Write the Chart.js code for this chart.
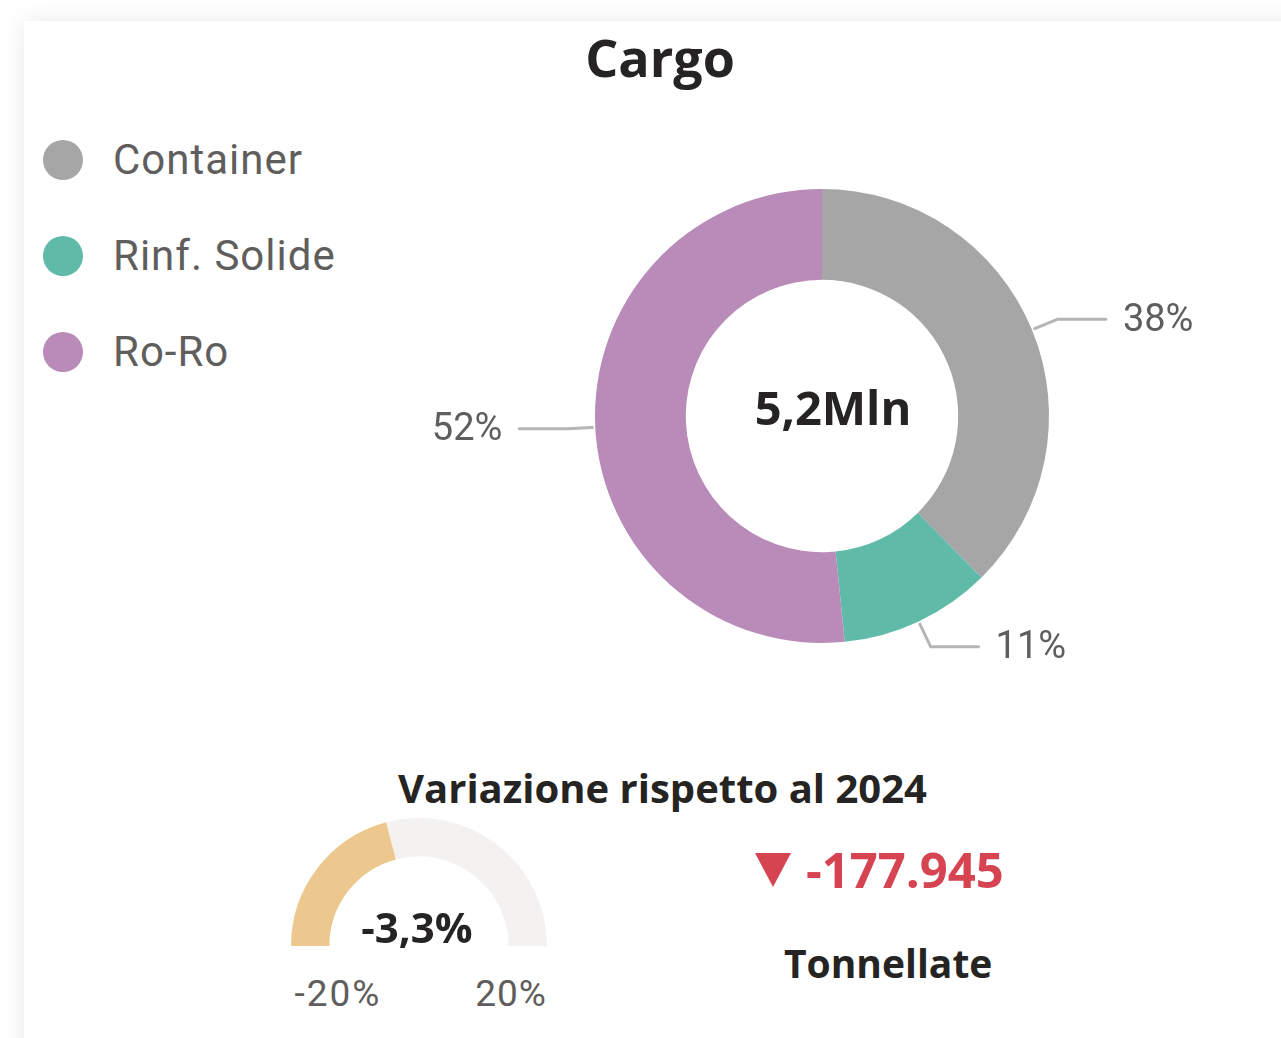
<!DOCTYPE html>
<html lang="it">
  <head>
    <meta charset="UTF-8" />
    <title>Cargo</title>
    <script src="https://cdn.jsdelivr.net/npm/chart.js"></script>
    <style>
      html, body {
        margin: 0;
        padding: 0;
        background: #ffffff;
        overflow: hidden;
      }
      .card {
        position: absolute;
        left: 24px;
        top: 21px;
        width: 1300px;
        height: 1100px;
        background: #fff;
        box-shadow: 0 0 22px rgba(0, 0, 0, 0.09);
      }
      .abs {
        position: absolute;
        white-space: nowrap;
      }
      .bold {
        font-family: "Open Sans", sans-serif;
        font-weight: 700;
        color: #252423;
      }
      .din {
        font-family: Roboto, sans-serif;
        color: #605e5c;
      }
      .legend-item {
        position: absolute;
        left: 43px;
        height: 40px;
        width: 400px;
      }
      .legend-item .dot {
        position: absolute;
        left: 0;
        top: 0;
        width: 40px;
        height: 40px;
        border-radius: 50%;
      }
      .legend-item .txt {
        position: absolute;
        left: 70px;
        top: 50%;
        transform: translateY(-52%);
        font-size: 42px;
        letter-spacing: 1px;
        white-space: nowrap;
      }
      .tri {
        position: absolute;
        left: 755px;
        top: 853px;
        width: 0;
        height: 0;
        border-left: 18px solid transparent;
        border-right: 18px solid transparent;
        border-top: 34px solid #d64452;
      }
    </style>
  </head>
  <body>
    <div class="card"></div>
    <div class="abs bold" id="title" style="left:0;width:1320px;text-align:center;top:21px;font-size:52px;">Cargo</div>
    <div id="legend"></div>
    <div class="abs" style="left:400px;top:150px;width:844px;height:532px;">
      <canvas id="donut" width="844" height="532"></canvas>
    </div>

    <div class="abs bold" style="left:0;width:1325px;text-align:center;top:760px;font-size:40px;">Variazione rispetto al 2024</div>
    <div class="abs" style="left:291px;top:818px;width:256px;height:128px;">
      <canvas id="gauge" width="256" height="128"></canvas>
    </div>
    <div class="abs bold" id="gaugeValue" style="left:317px;width:200px;text-align:center;top:898px;font-size:42px;"></div>
    <div class="abs din" id="gaugeMin" style="left:238px;width:200px;text-align:center;top:972px;font-size:37px;letter-spacing:2px;"></div>
    <div class="abs din" id="gaugeMax" style="left:411px;width:200px;text-align:center;top:972px;font-size:37px;letter-spacing:1px;"></div>

    <div class="tri"></div>
    <div class="abs bold" id="delta" style="left:806px;top:836px;font-size:49px;color:#d64452;"></div>
    <div class="abs bold" style="left:784px;width:200px;text-align:center;top:936px;font-size:39px;">Tonnellate</div>

    <script>
      // dati (tonnellate, milioni)
      const categories = ["Container", "Rinf. Solide", "Ro-Ro"];
      const cargoValues = [1.955, 0.562, 2.683];
      const colors = ["#a6a6a6", "#5fbaa8", "#b98bb9"];
      const totalLabel = "5,2Mln";

      const gaugeMin = -20;
      const gaugeMax = 20;
      const gaugeValue = -3.3;
      const deltaTonnes = "-177.945";

      // legenda
      const legend = document.getElementById("legend");
      categories.forEach((c, i) => {
        const item = document.createElement("div");
        item.className = "legend-item";
        item.style.top = (140 + i * 96) + "px";
        item.innerHTML = '<div class="dot" style="background:' + colors[i] + '"></div><div class="txt din">' + c + "</div>";
        legend.appendChild(item);
      });

      const total = cargoValues.reduce((a, b) => a + b, 0);

      // linee guida e percentuali fuori dalla ciambella
      const leaderLabels = {
        id: "leaderLabels",
        afterDatasetsDraw(chart) {
          const ctx = chart.ctx;
          const meta = chart.getDatasetMeta(0);
          ctx.save();
          meta.data.forEach((arc, i) => {
            const p = arc.getProps(["x", "y", "startAngle", "endAngle", "outerRadius"], true);
            const mid = (p.startAngle + p.endAngle) / 2;
            const cx = Math.cos(mid), cy = Math.sin(mid);
            const x1 = p.x + cx * (p.outerRadius + 3), y1 = p.y + cy * (p.outerRadius + 3);
            const x2 = p.x + cx * (p.outerRadius + 28), y2 = p.y + cy * (p.outerRadius + 28);
            const right = cx >= 0;
            const x3 = x2 + (right ? 48 : -48);
            ctx.strokeStyle = "#b5b5b5";
            ctx.lineWidth = 3;
            ctx.lineCap = "round";
            ctx.lineJoin = "round";
            ctx.beginPath();
            ctx.moveTo(x1, y1);
            ctx.lineTo(x2, y2);
            ctx.lineTo(x3, y2);
            ctx.stroke();
            ctx.fillStyle = "#605e5c";
            ctx.font = "38px Roboto";
            ctx.textAlign = right ? "left" : "right";
            ctx.textBaseline = "middle";
            const pct = Math.round((cargoValues[i] / total) * 100) + "%";
            ctx.fillText(pct, x3 + (right ? 17 : -17), y2 + 2);
          });
          // totale al centro
          const a = meta.data[0];
          ctx.fillStyle = "#252423";
          ctx.font = "bold 47px 'Open Sans'";
          ctx.textAlign = "center";
          ctx.textBaseline = "middle";
          ctx.fillText(totalLabel, a.x + 11, a.y - 4);
          ctx.restore();
        }
      };

      new Chart(document.getElementById("donut"), {
        type: "doughnut",
        data: {
          labels: categories,
          datasets: [{
            data: cargoValues,
            backgroundColor: colors,
            borderWidth: 0,
            hoverOffset: 0
          }]
        },
        options: {
          responsive: false,
          animation: false,
          cutout: "60%",
          layout: { padding: { left: 195, right: 195, top: 39, bottom: 39 } },
          plugins: { legend: { display: false }, tooltip: { enabled: false } }
        },
        plugins: [leaderLabels]
      });

      // gauge
      new Chart(document.getElementById("gauge"), {
        type: "doughnut",
        data: {
          labels: ["valore", "resto"],
          datasets: [{
            data: [gaugeValue - gaugeMin, gaugeMax - gaugeValue],
            backgroundColor: ["#ecc88e", "#f3f2f1"],
            borderWidth: 0,
            hoverOffset: 0
          }]
        },
        options: {
          responsive: false,
          animation: false,
          rotation: -90,
          circumference: 180,
          cutout: "70%",
          plugins: { legend: { display: false }, tooltip: { enabled: false } }
        }
      });

      const fmt = v => v.toFixed(1).replace(".", ",") + "%";
      document.getElementById("gaugeValue").textContent = fmt(gaugeValue);
      document.getElementById("gaugeMin").textContent = gaugeMin + "%";
      document.getElementById("gaugeMax").textContent = gaugeMax + "%";
      document.getElementById("delta").textContent = deltaTonnes;
    </script>
  </body>
</html>
